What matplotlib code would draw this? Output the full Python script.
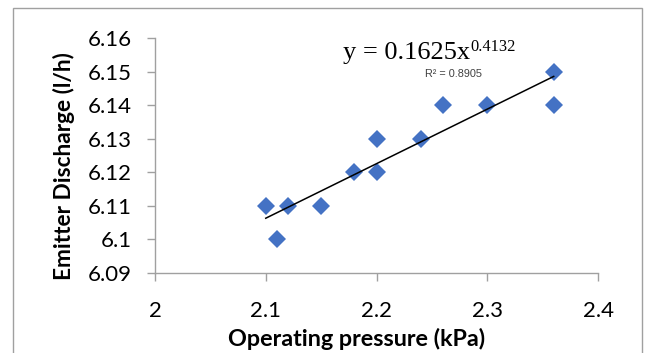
import numpy as np
import matplotlib
matplotlib.use("Agg")
import matplotlib.pyplot as plt
from matplotlib.patches import Rectangle

# Operating pressure (kPa) vs emitter discharge (l/h)
pressure = [2.10, 2.11, 2.12, 2.15, 2.18, 2.20, 2.20, 2.24, 2.26, 2.30, 2.36, 2.36]
discharge = [6.11, 6.10, 6.11, 6.11, 6.12, 6.13, 6.12, 6.13, 6.14, 6.14, 6.15, 6.14]

xticks = [2, 2.1, 2.2, 2.3, 2.4]
xtick_labels = ['2', '2.1', '2.2', '2.3', '2.4']
yticks = [6.09, 6.10, 6.11, 6.12, 6.13, 6.14, 6.15, 6.16]
ytick_labels = ['6.09', '6.1', '6.11', '6.12', '6.13', '6.14', '6.15', '6.16']

eq_main = 'y = 0.1625x'
eq_exp = '0.4132'
r2_text = 'R\u00b2 = 0.8905'

W, H = 645, 353
fig = plt.figure(figsize=(W / 100, H / 100), dpi=100)
ax = fig.add_axes([155 / W, 1 - 273 / H, 443 / W, 235 / H])

# Scatter
ax.plot(pressure, discharge, linestyle='none', marker='D', markersize=9.3,
        color='#4472C4', markeredgewidth=0, zorder=3)

# Trendline (least squares) over the data range
x = np.array(pressure)
slope, icept = np.polyfit(x, np.array(discharge), 1)
xl = np.array([x.min(), x.max()])
ax.plot(xl, slope * xl + icept, color='black', linewidth=1.1, zorder=4)

ax.set_xlim(2, 2.4)
ax.set_ylim(6.09, 6.16)
ax.set_xticks(xticks)
ax.set_xticklabels(xtick_labels)
ax.set_yticks(yticks)
ax.set_yticklabels(ytick_labels)

for s in ['top', 'right']:
    ax.spines[s].set_visible(False)
for s in ['left', 'bottom']:
    ax.spines[s].set_color('#a0a0a0')
    ax.spines[s].set_linewidth(1.0)
ax.tick_params(axis='both', direction='out', length=6, width=1.0,
               color='#a0a0a0', labelsize=16, labelcolor='black')
ax.tick_params(axis='y', pad=11)
ax.tick_params(axis='x', pad=14)
for lab in ax.get_xticklabels() + ax.get_yticklabels():
    lab.set_fontfamily('Lato')

ax.set_xlabel('Operating pressure (kPa)', fontfamily='Lato', fontweight='bold',
              fontsize=16.8, va='center')
ax.xaxis.set_label_coords(0.456, -0.28)
ax.set_ylabel('Emitter Discharge (l/h)', fontfamily='Lato', fontweight='bold',
              fontsize=16.3, va='center')
ax.yaxis.set_label_coords(-0.205, 0.455)

# Trendline equation
fig.text(343 / W, 1 - 59 / H, eq_main, fontfamily='Liberation Serif',
         fontsize=19, va='baseline', ha='left')
fig.text(470 / W, 1 - 51 / H, eq_exp, fontfamily='Liberation Serif',
         fontsize=11.8, va='baseline', ha='left')
fig.text(425 / W, 1 - 77 / H, r2_text, fontfamily='Liberation Sans',
         fontsize=7.8, va='baseline', ha='left', color='#404040')

# Chart area border
fig.add_artist(Rectangle((13 / W, -0.1), (642 - 13) / W, 1.1 - 8 / H,
                         transform=fig.transFigure, fill=False,
                         edgecolor='#a0a0a0', linewidth=1.0))

fig.savefig('out.png', dpi=100)
